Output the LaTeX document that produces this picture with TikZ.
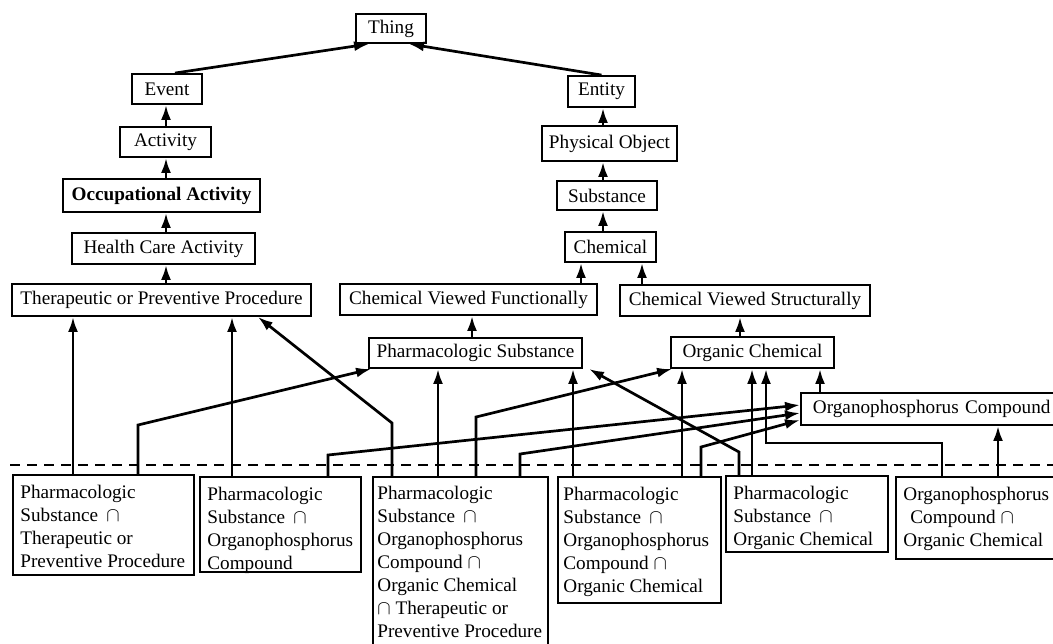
\documentclass[tikz,border=0pt]{standalone}
\usepackage{fontspec}
\setmainfont{Liberation Serif}
\usetikzlibrary{arrows.meta}
\newcommand\dfont{\fontsize{9.6}{11.5}\selectfont}
\newcommand\icap{$\cap$}
\begin{document}
\begin{tikzpicture}[x=0.5pt,y=-0.5pt,
  box/.style={draw,line width=0.95pt,inner sep=0pt,font=\dfont},
  bbox/.style={draw,line width=0.95pt,inner sep=0pt,anchor=north west},
  btext/.style={anchor=north west,align=left,inner sep=0pt,font=\dfont},
  arr/.style={line width=1.35pt,-{Latex[length=7.5pt,width=5pt]}},
  sepline/.style={line width=0.8pt,dash pattern=on 5pt off 3.5pt}]
\useasboundingbox (0,0) rectangle (1053,643);

% upper hierarchy
\node[box,minimum width=35pt,minimum height=14.5pt] (Thing) at (391,28.5) {Thing};
\node[box,minimum width=35pt,minimum height=15pt] (Event) at (167,89) {Event};
\node[box,minimum width=45.5pt,minimum height=15pt] (Activity) at (165.5,142) {Activity};
\node[box,minimum width=98.5pt,minimum height=16.5pt] (Occ) at (161.5,195.5) {\textbf{Occupational Activity}};
\node[box,minimum width=91.5pt,minimum height=15.5pt] (HCA) at (163.5,248.5) {Health Care Activity};
\node[box,minimum width=149.5pt,minimum height=16pt] (TPP) at (161.5,300) {Therapeutic or Preventive Procedure};
\node[box,minimum width=33.5pt,minimum height=15.5pt] (Entity) at (601.5,91.5) {Entity};
\node[box,minimum width=67.5pt,minimum height=17.5pt] (PO) at (609.5,143.5) {Physical Object};
\node[box,minimum width=50pt,minimum height=14.5pt] (Sub) at (607,195.5) {Substance};
\node[box,minimum width=45.5pt,minimum height=15pt] (Chem) at (610.5,247) {Chemical};
\node[box,minimum width=128.5pt,minimum height=15.5pt] (CVF) at (468.5,299.5) {Chemical Viewed Functionally};
\node[box,minimum width=125pt,minimum height=15.5pt] (CVS) at (745,300.5) {Chemical Viewed Structurally};
\node[box,minimum width=106.5pt,minimum height=15pt] (PS) at (475.5,353) {Pharmacologic Substance};
\node[box,minimum width=81.5pt,minimum height=15.5pt] (OC) at (752.5,352.5) {Organic Chemical};
\node[box,anchor=west,text width=130pt,align=left,inner xsep=6pt,inner ysep=0pt,minimum height=16pt] (OPC) at (800,409) {Organophosphorus Compound};

% separator
\draw[sepline] (10,465) -- (1053,465);

% lower boxes
\node[bbox,minimum width=90.5pt,minimum height=50pt] (B1) at (12,474) {};
\node[btext] (B1t) at ([shift={(4pt,-5.5pt)}]B1.north west)
  {Pharmacologic\\Substance~\,\icap\\Therapeutic or\\Preventive Procedure};
\node[bbox,minimum width=80.5pt,minimum height=47.5pt] (B2) at (199,476) {};
\node[btext] (B2t) at ([shift={(4pt,-5.5pt)}]B2.north west)
  {Pharmacologic\\Substance~\,\icap\\Organophosphorus\\Compound};
\node[bbox,minimum width=87.5pt,minimum height=95pt] (B3) at (372,476) {};
\node[btext] (B3t) at ([shift={(2.5pt,-5pt)}]B3.north west)
  {Pharmacologic\\Substance~\,\icap\\Organophosphorus\\Compound~\icap\\Organic Chemical\\\icap~Therapeutic or\\Preventive Procedure};
\node[bbox,minimum width=81.5pt,minimum height=63pt] (B4) at (557,476) {};
\node[btext] (B4t) at ([shift={(3pt,-5.5pt)}]B4.north west)
  {Pharmacologic\\Substance~\,\icap\\Organophosphorus\\Compound~\icap\\Organic Chemical};
\node[bbox,minimum width=81pt,minimum height=38pt] (B5) at (725,475) {};
\node[btext] (B5t) at ([shift={(4pt,-5.5pt)}]B5.north west)
  {Pharmacologic\\Substance~\,\icap\\Organic Chemical};
\node[bbox,minimum width=95pt,minimum height=41pt] (B6) at (895,476) {};
\node[btext] (B6t) at ([shift={(4pt,-5.5pt)}]B6.north west)
  {Organophosphorus\\\hspace*{3.5pt}Compound~\icap\\Organic Chemical};

% upper connectors
\draw[arr] ([xshift=4pt]Event.north) -- ([xshift=7pt]Thing.south west);
\draw[arr] (Entity.north) -- ([xshift=-9pt]Thing.south east);
\draw[arr] (166,0 |- Activity.north) -- (166,0 |- Event.south);
\draw[arr] (166,0 |- Occ.north) -- (166,0 |- Activity.south);
\draw[arr] (166,0 |- HCA.north) -- (166,0 |- Occ.south);
\draw[arr] (166,0 |- TPP.north) -- (166,0 |- HCA.south);
\draw[arr] (603,0 |- PO.north) -- (603,0 |- Entity.south);
\draw[arr] (603,0 |- Sub.north) -- (603,0 |- PO.south);
\draw[arr] (603,0 |- Chem.north) -- (603,0 |- Sub.south);
\draw[arr] (581,0 |- CVF.north) -- (581,0 |- Chem.south);
\draw[arr] (642,0 |- CVS.north) -- (642,0 |- Chem.south);
\draw[arr] (472,0 |- PS.north) -- (472,0 |- CVF.south);
\draw[arr] (740,0 |- OC.north) -- (740,0 |- CVS.south);
\draw[arr] (820,0 |- OPC.north) -- (820,0 |- OC.south);

% lower connectors
\draw[arr] (73,0 |- B1.north) -- (73,0 |- TPP.south);
\draw[arr] (138,0 |- B1.north) -- ++(0,-49) -- ([xshift=1.5pt]PS.south west);
\draw[arr] (232,0 |- B2.north) -- (232,0 |- TPP.south);
\draw[arr] (328,0 |- B2.north) -- ++(0,-21) -- ([yshift=2pt]OPC.west);
\draw[arr] (392,0 |- B3.north) -- ++(0,-53) -- ([xshift=-27pt]TPP.south east);
\draw[arr] (438,0 |- B3.north) -- (438,0 |- PS.south);
\draw[arr] (476,0 |- B3.north) -- ++(0,-59) -- ([xshift=1pt]OC.south west);
\draw[arr] (520,0 |- B3.north) -- ++(0,-22) -- ([yshift=-2pt]OPC.west);
\draw[arr] (573,0 |- B4.north) -- (573,0 |- PS.south);
\draw[arr] (682,0 |- B4.north) -- (682,0 |- OC.south);
\draw[arr] (701,0 |- B4.north) -- ++(0,-29) -- ([yshift=-5.5pt]OPC.west);
\draw[arr] (739,0 |- B5.north) -- ++(0,-23) -- ([xshift=3pt]PS.south east);
\draw[arr] (752,0 |- B5.north) -- (752,0 |- OC.south);
\draw[arr] (942,0 |- B6.north) -- ++(0,-33) -| (766,0 |- OC.south);
\draw[arr] (998,0 |- B6.north) -- (998,0 |- OPC.south);
\end{tikzpicture}
\end{document}
